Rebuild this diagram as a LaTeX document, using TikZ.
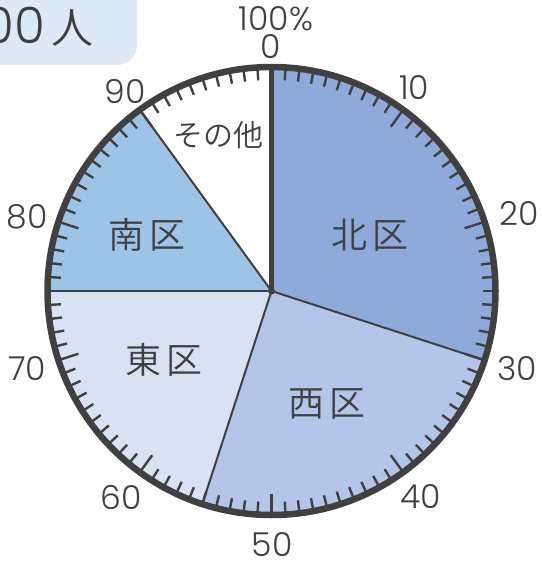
\documentclass[tikz,border=0pt]{standalone}
\usepackage{fontspec}
\setmainfont{Noto Sans CJK JP DemiLight}
\newfontfamily\numfont{Poppins Light}
\definecolor{ink}{HTML}{404040}
\definecolor{north}{HTML}{8EAADB}
\definecolor{west}{HTML}{B4C6E7}
\definecolor{east}{HTML}{D9E2F3}
\definecolor{south}{HTML}{9DC3E6}
\definecolor{tag}{HTML}{DEE9F6}
\tikzset{
  num/.style={text=ink,font=\fontsize{33}{33}\selectfont\numfont,inner sep=0pt},
  lab/.style={text=ink,font=\fontsize{36}{36}\selectfont,inner sep=0pt},
  radial/.style={draw=ink,line width=2pt},
  tick/.style={draw=ink,line width=2.4pt}
}
\begin{document}
\begin{tikzpicture}[x=1pt,y=-1pt]
\useasboundingbox (0,0) rectangle (541,562);
\def\cx{271.5}\def\cy{291}\def\R{224}
\coordinate (c) at (\cx,\cy);
% tag
\fill[tag] (-20,-20) -- (137,-20) -- (137,45) arc[start angle=0,end angle=90,radius=20] -- (-20,65) -- cycle;
\node[lab,anchor=east] (tagtext) at (94,27) {\numfont\fontsize{50}{50}\selectfont 00\hspace{7pt}\rmfamily\fontsize{42}{42}\selectfont 人};
% sectors
\fill[north] (c) -- (\cx,\cy-\R) arc[start angle=-90,delta angle=108,radius=\R] -- cycle;
\fill[west] (c) -- ({\cx+\R*sin(108)},{\cy-\R*cos(108)}) arc[start angle=18,delta angle=90,radius=\R] -- cycle;
\fill[east] (c) -- ({\cx+\R*sin(198)},{\cy-\R*cos(198)}) arc[start angle=108,delta angle=72,radius=\R] -- cycle;
\fill[south] (c) -- (\cx-\R,\cy) arc[start angle=180,delta angle=54,radius=\R] -- cycle;
% radii
\foreach \p in {108,198,270,324}
  \draw[radial] (c) -- ({\cx+\R*sin(\p)},{\cy-\R*cos(\p)});
\draw[draw=ink,line width=4.5pt] (c) -- (\cx,\cy-\R);
\fill[ink] (c) circle[radius=3.5];
% ticks
\foreach \i in {1,...,100}{
  \pgfmathsetmacro{\a}{3.6*\i}
  \pgfmathtruncatemacro{\m}{mod(\i,10)}
  \pgfmathsetmacro{\len}{\m==0 ? 21 : 13}
  \draw[tick] ({\cx+\R*sin(\a)},{\cy-\R*cos(\a)}) -- ({\cx+(\R-\len)*sin(\a)},{\cy-(\R-\len)*cos(\a)});
}
\draw[draw=ink,line width=6.5pt] (c) ++(\R,0) arc[start angle=0,end angle=360,radius=\R];
% labels
\node[lab] (n) at (370,235) {北\hspace{6pt}区};
\node[lab] (w) at (327,404) {西\hspace{6pt}区};
\node[lab] (e) at (164,360) {東\hspace{6pt}区};
\node[lab] (s) at (147,235) {南\hspace{6pt}区};
\node[lab,font=\fontsize{30}{30}\selectfont] (o) at (218,135) {その他};
% numbers
\node[num] (p100) at (276,19) {100\%};
\node[num] (p0) at (271,47) {0};
\node[num] (p10) at (414,88) {10};
\node[num] (p20) at (519,214) {20};
\node[num] (p30) at (517,369) {30};
\node[num] (p40) at (421,497) {40};
\node[num] (p50) at (272,545) {50};
\node[num] (p60) at (121,497) {60};
\node[num] (p70) at (27,369) {70};
\node[num] (p80) at (27,217) {80};
\node[num] (p90) at (125,92) {90};
\end{tikzpicture}
\end{document}
